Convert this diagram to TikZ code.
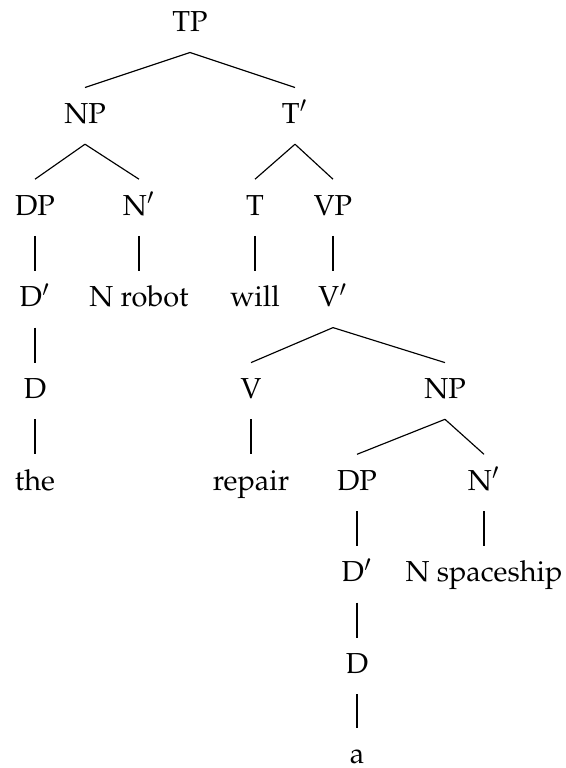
\documentclass[tikz,border=0pt]{standalone}
\usepackage[T1]{fontenc}
\usepackage{mathpazo}
\tikzset{lbl/.style={inner sep=0pt, text height=6.92pt, text depth=1.7pt, outer ysep=5.5pt, anchor=base}}
\begin{document}
\begin{tikzpicture}[x=0.346pt,y=-0.346pt]
\useasboundingbox (0,0) rectangle (566,768);
\node[lbl] (tp) at (190,31.7) {TP};
\node[lbl] (np) at (85,123.4) {NP};
\node[lbl] (tbar) at (295,123.4) {T$'$};
\node[lbl] (dp) at (35,215.1) {DP};
\node[lbl] (nbar) at (139,215.1) {N$'$};
\node[lbl] (t) at (255,215.1) {T};
\node[lbl] (vp) at (333,215.1) {VP};
\node[lbl] (dbar) at (35,306.8) {D$'$};
\node[lbl] (nrobot) at (139,306.8) {N robot};
\node[lbl] (will) at (255,306.8) {will};
\node[lbl] (vbar) at (333,306.8) {V$'$};
\node[lbl] (d) at (35,398.5) {D};
\node[lbl] (v) at (251,398.5) {V};
\node[lbl] (np2) at (445,398.5) {NP};
\node[lbl] (the) at (35,490.2) {the};
\node[lbl] (repair) at (251,490.2) {repair};
\node[lbl] (dp2) at (357,490.2) {DP};
\node[lbl] (nbar2) at (484,490.2) {N$'$};
\node[lbl] (dbar2) at (357,581.9) {D$'$};
\node[lbl] (nspace) at (484,581.9) {N spaceship};
\node[lbl] (d2) at (357,673.6) {D};
\node[lbl] (a) at (357,763.5) {a};
% branches
\draw (tp.south) -- (np.north);
\draw (tp.south) -- (tbar.north);
\draw (np.south) -- (dp.north);
\draw (np.south) -- (nbar.north);
\draw (tbar.south) -- (t.north);
\draw (tbar.south) -- (vp.north);
\draw (dp.south) -- (dbar.north);
\draw (dbar.south) -- (d.north);
\draw (d.south) -- (the.north);
\draw (nbar.south) -- (nrobot.north);
\draw (t.south) -- (will.north);
\draw (vp.south) -- (vbar.north);
\draw (vbar.south) -- (v.north);
\draw (vbar.south) -- (np2.north);
\draw (v.south) -- (repair.north);
\draw (np2.south) -- (dp2.north);
\draw (np2.south) -- (nbar2.north);
\draw (dp2.south) -- (dbar2.north);
\draw (dbar2.south) -- (d2.north);
\draw (d2.south) -- (a.north);
\draw (nbar2.south) -- (nspace.north);
\end{tikzpicture}
\end{document}
